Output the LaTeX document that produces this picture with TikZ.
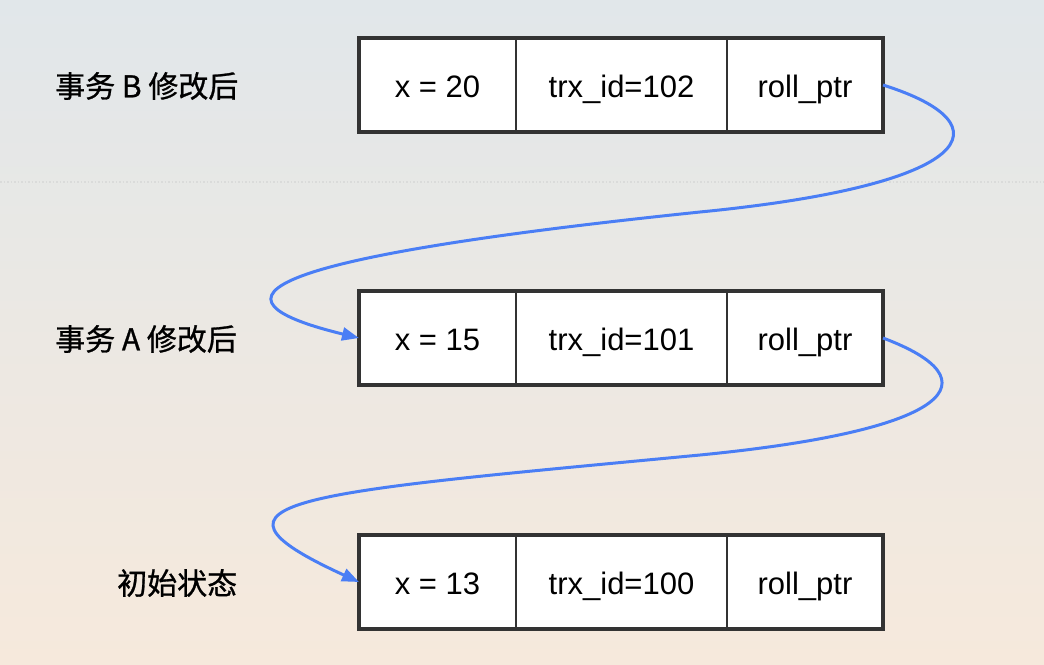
\documentclass[tikz,border=0pt]{standalone}
\usepackage{fontspec}
\setmainfont{Liberation Sans}
\newfontfamily\cjk[FakeBold=0.9]{Noto Sans CJK SC}
\usetikzlibrary{positioning,arrows.meta}
\definecolor{bgtop}{RGB}{225,231,234}
\definecolor{bgbot}{RGB}{246,233,220}
\definecolor{dotline}{RGB}{218,219,218}
\definecolor{boxline}{RGB}{51,51,51}
\definecolor{ptrblue}{RGB}{74,126,245}
\begin{document}
\begin{tikzpicture}[x=1pt, y=-1pt,
	cell/.style={draw=boxline, line width=2.5pt, fill=white, minimum height=94pt, inner sep=0pt, outer sep=0pt, text height=24pt, text depth=0pt, font=\fontsize{31}{36}\selectfont},
	rowlabel/.style={anchor=west, inner sep=0pt, font=\cjk\fontsize{30}{35}\selectfont},
	ptr/.style={ptrblue, line width=3pt, -{Triangle[length=17pt, width=13pt]}}]
	\def\wX{157}
	\def\wT{211}
	\def\wP{156}
	
	%Hintergrund
	\useasboundingbox (0,0) rectangle (1044,664);
	\fill[top color=bgtop, bottom color=bgbot] (0,0) rectangle (1044,664);
	\draw[dotline, dotted, line width=1.5pt] (0,182) -- (1044,182);
	
	%Zeilen
	\foreach \r/\y/\xv/\id in {b/85/20/102, a/338/15/101, o/582/13/100}{
		\node[cell, minimum width=\wX pt] (x\r) at (437.5,\y) {x = \xv};
		\node[cell, minimum width=\wT pt, right=0pt of x\r] (t\r) {trx\_id=\id};
		\node[cell, minimum width=\wP pt, right=0pt of t\r] (p\r) {roll\_ptr};
		\draw[boxline, line width=3.5pt] (x\r.north west) rectangle (p\r.south east);
	}
	\node[rowlabel] (lb) at (55,86) {事务 B 修改后};
	\node[rowlabel] (la) at (55,339) {事务 A 修改后};
	\node[rowlabel] (lo) at (117,583) {初始状态};
	
	%Zeiger
	\draw[ptr] (pb.east) .. controls (1010,125) and (975,185) .. (700,212) .. controls (315,252) and (170,292) .. (xa.west);
	\draw[ptr] (pa.east) .. controls (995,380) and (955,430) .. (700,455) .. controls (300,493) and (180,500) .. (xo.west);
	
\end{tikzpicture}
\end{document}
